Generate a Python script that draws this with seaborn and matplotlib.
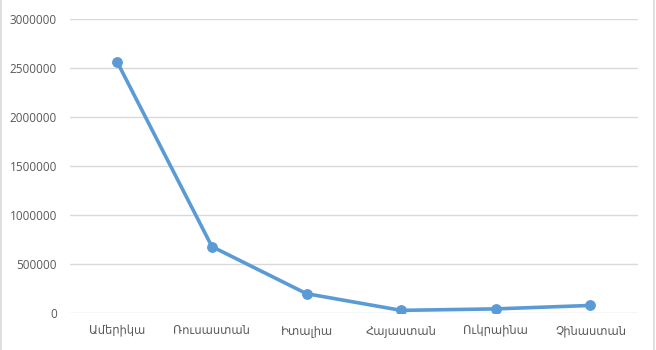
import matplotlib
matplotlib.use("Agg")
import matplotlib.pyplot as plt
from matplotlib.lines import Line2D
import seaborn as sns
import pandas as pd

countries = ["Ամերիկա", "Ռուսաստան", "Իտալիա", "Հայաստան", "Ուկրաինա", "Չինաստան"]
values = [2560000, 680000, 200000, 30000, 45000, 80000]
yticks = [0, 500000, 1000000, 1500000, 2000000, 2500000, 3000000]

sns.set_theme(style="white")
plt.rcParams['font.family'] = ['Open Sans', 'DejaVu Sans']

fig = plt.figure(figsize=(6.56, 3.5), dpi=100)
ax = fig.add_axes([70/656, 1-313.3/350, (637.7-70)/656, (313.3-19)/350])

df = pd.DataFrame({"country": countries, "value": values})
sns.lineplot(data=df, x="country", y="value", sort=False, ax=ax,
             color="#5b9bd5", linewidth=2.6, marker="o", markersize=7,
             markeredgecolor="#5b9bd5")

ax.set_xlim(-0.5, len(countries) - 0.5)
ax.set_ylim(0, 3000000)
ax.set_yticks(yticks)
ax.set_yticklabels([str(v) for v in yticks])
ax.set_xlabel("")
ax.set_ylabel("")
ax.grid(axis="y", color="#d9d9d9", linewidth=1)
ax.set_axisbelow(True)
for s in ax.spines.values():
    s.set_visible(False)
ax.tick_params(axis="both", length=0, labelcolor="#595959")
ax.tick_params(axis="y", pad=9.5, labelsize=8.5)
ax.tick_params(axis="x", pad=8, labelsize=8.3)

for xpix in (1, 654):
    fig.add_artist(Line2D([xpix/656, xpix/656], [0, 1], transform=fig.transFigure,
                          color="#d9d9d9", linewidth=1.2))
fig.savefig("out.png", dpi=100)
